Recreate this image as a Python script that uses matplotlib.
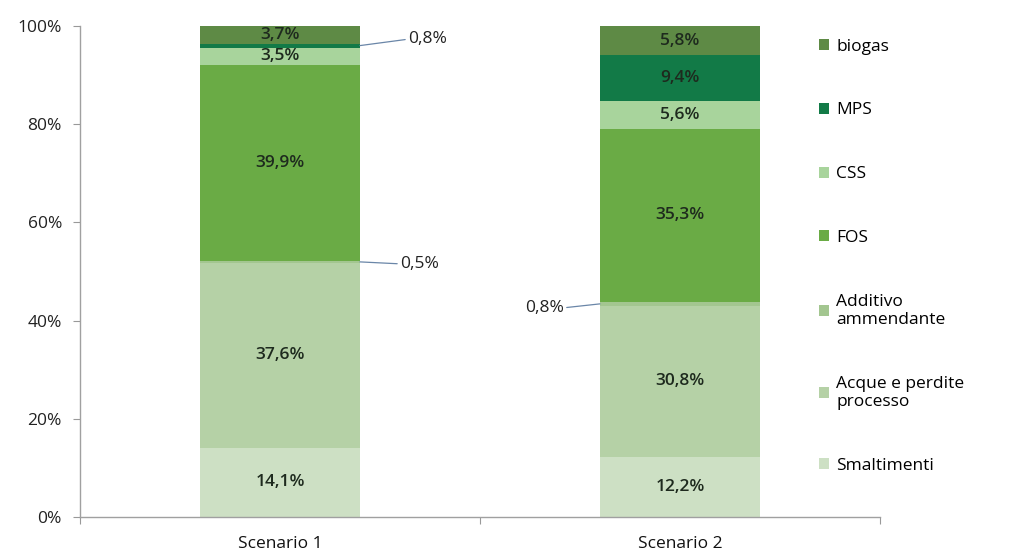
import matplotlib
matplotlib.use("Agg")
import matplotlib.pyplot as plt
import numpy as np

plt.rcParams['font.family'] = ['Open Sans', 'DejaVu Sans']

scenarios = ["Scenario 1", "Scenario 2"]
categories = ["Smaltimenti", "Acque e perdite\nprocesso", "Additivo\nammendante",
              "FOS", "CSS", "MPS", "biogas"]
smaltimenti = [14.1, 12.2]
acque = [37.6, 30.8]
additivo = [0.5, 0.8]
fos = [39.9, 35.3]
css = [3.5, 5.6]
mps = [0.8, 9.4]
biogas = [3.7, 5.8]
series = [smaltimenti, acque, additivo, fos, css, mps, biogas]
colors = ["#cde0c4", "#b5d1a6", "#a3c690", "#6aab45", "#a8d49c", "#127a47", "#5e8a45"]
yticks = [0, 20, 40, 60, 80, 100]
ytick_labels = ["0%", "20%", "40%", "60%", "80%", "100%"]

FS = 12.5

fig = plt.figure(figsize=(10.10, 5.58), dpi=100)
ax = fig.add_axes([0.0792, 0.0735, 0.792, 0.880])

x = np.arange(len(scenarios))
bottom = np.zeros(len(scenarios))
for vals, col, lab in zip(series, colors, categories):
    ax.bar(x, vals, width=0.4, bottom=bottom, color=col, label=lab, edgecolor='none')
    bottom = bottom + np.array(vals)

def fmt(v):
    return f"{v:.1f}%".replace(".", ",")

# in-bar labels (skip the tiny segments)
label_color = "#1e2a1e"
for si, vals in enumerate(series):
    for xi, v in enumerate(vals):
        if v < 1.0:
            continue
        base = sum(series[k][xi] for k in range(si))
        ax.text(x[xi], base + v / 2, fmt(v), ha='center', va='center',
                fontsize=FS, color=label_color, fontweight='semibold')

lead = "#6a86a8"
# Scenario 1 MPS 0,8%
base = sum(series[k][0] for k in range(5))
ax.annotate(fmt(mps[0]), xy=(x[0] + 0.2, base + mps[0] / 2), xytext=(x[0] + 0.32, 97.3),
            ha='left', va='center', fontsize=FS, color="#222222",
            arrowprops=dict(arrowstyle='-', color=lead, lw=0.9, shrinkA=0, shrinkB=0,
                            relpos=(0, 0.5)))
# Scenario 1 Additivo 0,5%
base = sum(series[k][0] for k in range(2))
ax.annotate(fmt(additivo[0]), xy=(x[0] + 0.2, base + additivo[0] / 2), xytext=(x[0] + 0.30, base + additivo[0] / 2 - 0.4),
            ha='left', va='center', fontsize=FS, color="#222222",
            arrowprops=dict(arrowstyle='-', color=lead, lw=0.9, shrinkA=0, shrinkB=0,
                            relpos=(0, 0.5)))
# Scenario 2 Additivo 0,8%
base = sum(series[k][1] for k in range(2))
ax.annotate(fmt(additivo[1]), xy=(x[1] - 0.2, base + additivo[1] / 2), xytext=(x[1] - 0.29, base + additivo[1] / 2 - 0.8),
            ha='right', va='center', fontsize=FS, color="#222222",
            arrowprops=dict(arrowstyle='-', color=lead, lw=0.9, shrinkA=0, shrinkB=0,
                            relpos=(1, 0.5)))

ax.set_xlim(-0.5, 1.5)
ax.set_ylim(0, 100)
ax.set_yticks(yticks)
ax.set_yticklabels(ytick_labels, fontsize=FS, color="#222222")
ax.set_xticks(x)
ax.set_xticklabels(scenarios, fontsize=FS, color="#111111")
ax.tick_params(axis='x', length=0, pad=14)
ax.set_xticks([-0.5, 0.5, 1.5], minor=True)
ax.tick_params(axis='x', which='minor', length=5, color="#999999", width=0.8)
ax.tick_params(axis='y', length=5, color="#999999", width=0.8, pad=8)
for s in ['top', 'right']:
    ax.spines[s].set_visible(False)
for s in ['left', 'bottom']:
    ax.spines[s].set_color("#a0a0a0")
    ax.spines[s].set_linewidth(1.0)

handles, labels = ax.get_legend_handles_labels()
leg = fig.legend(handles[::-1], labels[::-1], loc='upper left', bbox_to_anchor=(0.804, 0.943),
                 frameon=False, fontsize=FS, handlelength=0.6, handleheight=0.6,
                 handletextpad=0.4, labelspacing=2.75, borderaxespad=0)

fig.savefig("out.png", dpi=100)
